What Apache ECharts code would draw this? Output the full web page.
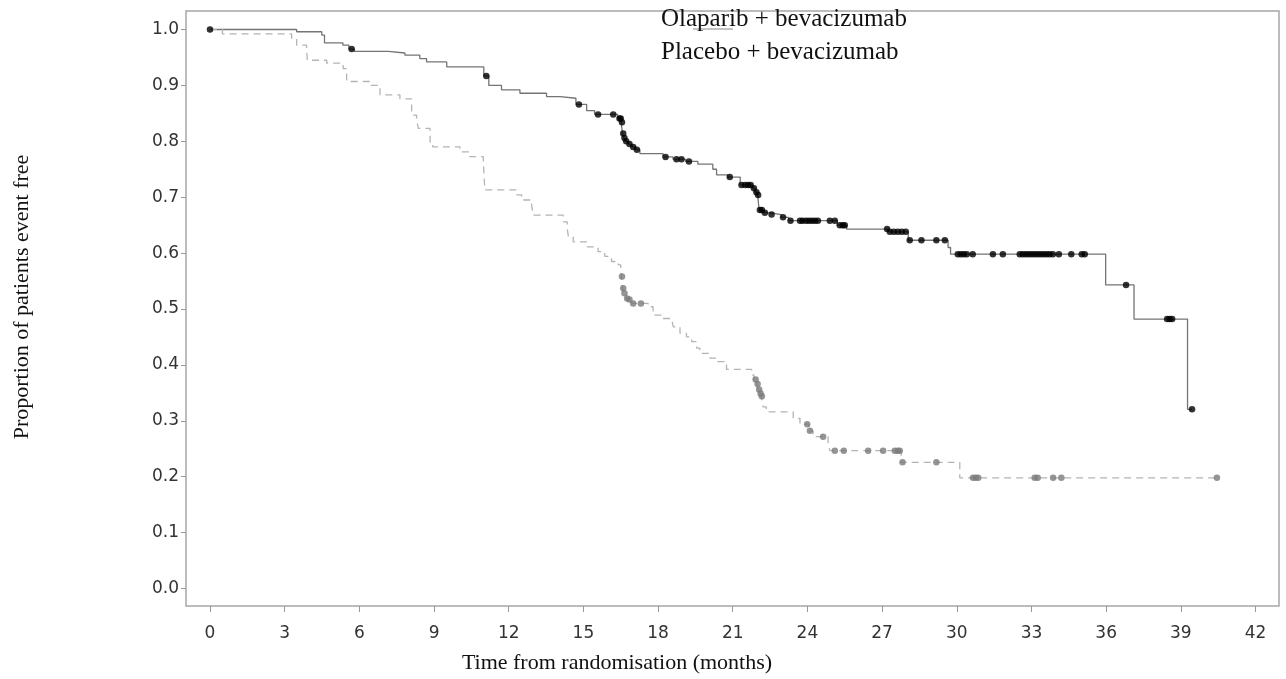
<!DOCTYPE html>
<html>
<head>
<meta charset="utf-8">
<script src="https://cdn.jsdelivr.net/npm/echarts@6/dist/echarts.min.js"></script>
<style>
  html, body { margin: 0; padding: 0; background: #fff; }
  #main { width: 1286px; height: 679px; }
</style>
</head>
<body>
<div id="main"></div>
<script>
// Olaparib + bevacizumab: step times (months) and survival after each step
const olaTimes = [0, 3.48, 4.49, 4.6, 5.34, 5.58, 5.8, 7.16, 7.83, 8.43, 8.7, 9.51, 11.0, 11.2, 11.71, 12.45,
  13.52, 14.06, 14.7, 15.13, 15.45, 16.38, 16.52, 16.57, 16.63, 16.68, 16.8, 16.95, 17.1, 17.27, 18.2, 18.6,
  19.1, 19.6, 20.2, 20.35, 20.8, 21.3, 21.8, 21.9, 22.0, 22.06, 22.25, 22.5, 22.95, 23.25, 25.2, 25.57,
  27.25, 28.05, 29.65, 29.75, 35.98, 37.12, 39.27, 39.45];
const olaSurv = [1.0, 0.996, 0.99, 0.976, 0.972, 0.965, 0.961, 0.958, 0.954, 0.948, 0.942, 0.933, 0.917, 0.9, 0.892, 0.886,
  0.88, 0.877, 0.866, 0.855, 0.848, 0.841, 0.834, 0.814, 0.806, 0.8, 0.795, 0.79, 0.785, 0.778, 0.772, 0.768,
  0.764, 0.759, 0.75, 0.74, 0.736, 0.722, 0.716, 0.709, 0.704, 0.677, 0.672, 0.669, 0.664, 0.658, 0.65, 0.643,
  0.638, 0.623, 0.61, 0.598, 0.543, 0.482, 0.3205, 0.3205];
const olaCensor = [0, 5.69, 11.1, 14.82, 15.59, 16.2, 16.45, 16.5, 16.55, 16.6, 16.65, 16.72, 16.85, 17.0, 17.15,
  18.3, 18.74, 18.94, 19.24, 20.88, 21.35, 21.5, 21.62, 21.72, 21.85, 21.95, 22.02, 22.09, 22.17, 22.29, 22.56,
  23.02, 23.32, 23.7, 23.8, 23.94, 24.06, 24.18, 24.3, 24.42, 24.9, 25.1, 25.3, 25.42, 25.5, 27.2, 27.31, 27.47,
  27.63, 27.79, 27.95, 28.11, 28.58, 29.18, 29.52, 30.04, 30.16, 30.28, 30.4, 30.64, 31.45, 31.85, 32.53, 32.65,
  32.77, 32.89, 33.01, 33.13, 33.25, 33.37, 33.49, 33.61, 33.73, 33.86, 34.1, 34.6, 35.02, 35.14, 36.8, 38.45,
  38.55, 38.65, 39.45];

// Placebo + bevacizumab
const plaTimes = [0, 0.5, 3.28, 3.48, 3.88, 3.91, 4.69, 5.35, 5.49, 6.43, 6.83, 7.63, 8.1, 8.3, 8.37, 8.84, 8.95,
  10.04, 10.44, 10.98, 11.04, 12.32, 12.52, 12.92, 12.98, 14.19, 14.35, 14.4, 14.59, 15.13, 15.59, 15.86, 16.13,
  16.4, 16.5, 16.53, 16.58, 16.62, 16.72, 16.8, 16.95, 17.6, 17.8, 18.14, 18.54, 18.61, 18.88, 19.14, 19.35,
  19.55, 19.68, 20.08, 20.35, 20.75, 21.76, 21.85, 21.97, 22.03, 22.09, 22.14, 22.22, 22.35, 23.43, 23.7, 24.05,
  24.23, 24.83, 24.9, 27.77, 30.12, 40.45];
const plaSurv = [1.0, 0.992, 0.984, 0.972, 0.963, 0.945, 0.94, 0.93, 0.907, 0.9, 0.883, 0.876, 0.847, 0.838, 0.823, 0.799, 0.79,
  0.781, 0.7725, 0.7665, 0.713, 0.704, 0.695, 0.686, 0.668, 0.656, 0.644, 0.629, 0.62, 0.611, 0.6025, 0.594, 0.585,
  0.579, 0.57, 0.558, 0.537, 0.528, 0.519, 0.517, 0.51, 0.504, 0.489, 0.483, 0.48, 0.468, 0.4565, 0.45, 0.4415,
  0.43, 0.4207, 0.412, 0.4057, 0.392, 0.382, 0.374, 0.366, 0.356, 0.349, 0.344, 0.325, 0.316, 0.3045, 0.294, 0.282,
  0.2716, 0.2585, 0.2465, 0.2258, 0.198, 0.198];
const plaCensor = [16.55, 16.6, 16.65, 16.76, 16.85, 17.0, 17.31, 21.92, 22.0, 22.06, 22.12, 22.17, 23.99, 24.1,
  24.63, 25.1, 25.46, 26.44, 27.04, 27.51, 27.63, 27.71, 27.82, 29.18, 30.65, 30.76, 30.86, 33.13, 33.25, 33.87,
  34.2, 40.45];

const xTicks = [0, 3, 6, 9, 12, 15, 18, 21, 24, 27, 30, 33, 36, 39, 42];
const yTicks = [0, 0.1, 0.2, 0.3, 0.4, 0.5, 0.6, 0.7, 0.8, 0.9, 1.0];
const seriesNames = ['Olaparib + bevacizumab', 'Placebo + bevacizumab'];

function survAt(times, surv, t) {
  let s = surv[0];
  for (let i = 0; i < times.length; i++) {
    if (times[i] <= t) s = surv[i];
  }
  return s;
}
function curve(times, surv) {
  return times.map((t, i) => [t, surv[i]]);
}
function marks(censor, times, surv) {
  return censor.map(t => [t, survAt(times, surv, t)]);
}

const tickFont = { fontFamily: 'DejaVu Sans', fontSize: 17, color: '#333' };
const serif = 'Liberation Serif';

const option = {
  animation: false,
  backgroundColor: '#fff',
  grid: {
    left: 186, top: 11, right: 7, bottom: 73,
    show: true, borderColor: '#a6a6a6', borderWidth: 1.5
  },
  legend: {
    data: seriesNames,
    orient: 'vertical',
    left: 655, top: 7,
    padding: 0,
    itemWidth: 0, itemHeight: 0,
    itemGap: 8,
    selectedMode: false,
    textStyle: { fontFamily: serif, fontSize: 25, color: '#111', lineHeight: 25 }
  },
  xAxis: {
    type: 'value',
    min: -0.964, max: 42.944,
    axisLine: { show: false, onZero: false },
    splitLine: { show: false },
    axisTick: { show: true, customValues: xTicks, length: 6, lineStyle: { color: '#999' } },
    axisLabel: Object.assign({ customValues: xTicks, margin: 19 }, tickFont)
  },
  yAxis: {
    type: 'value',
    min: -0.0313, max: 1.0331,
    axisLine: { show: false, onZero: false },
    splitLine: { show: false },
    axisTick: { show: true, customValues: yTicks, length: 5, lineStyle: { color: '#999' } },
    axisLabel: Object.assign({ customValues: yTicks, margin: 7, formatter: v => v.toFixed(1) }, tickFont)
  },
  graphic: [
    {
      type: 'text', x: 22, y: 297, rotation: Math.PI / 2,
      style: { text: 'Proportion of patients event free', fontFamily: serif, fontSize: 22, fill: '#111',
        align: 'center', verticalAlign: 'middle' }
    },
    {
      type: 'text', x: 617, y: 663,
      style: { text: 'Time from randomisation (months)', fontFamily: serif, fontSize: 22, fill: '#111',
        align: 'center', verticalAlign: 'middle' }
    },
    {
      type: 'line', shape: { x1: 693, y1: 29, x2: 733, y2: 29 },
      style: { stroke: '#8a8a8a', lineWidth: 1.2 }, z: 1
    }
  ],
  series: [
    {
      name: seriesNames[0], type: 'line', step: 'end', showSymbol: false,
      lineStyle: { color: '#747474', width: 1.3 }, itemStyle: { color: '#747474' },
      data: curve(olaTimes, olaSurv)
    },
    {
      name: seriesNames[1], type: 'line', step: 'end', showSymbol: false,
      lineStyle: { color: '#b4b4b4', width: 1.3, type: [7, 5] }, itemStyle: { color: '#b4b4b4' },
      data: curve(plaTimes, plaSurv)
    },
    {
      name: 'Olaparib censored', type: 'scatter', symbol: 'circle', symbolSize: 6.5,
      itemStyle: { color: '#000' }, z: 3,
      data: marks(olaCensor, olaTimes, olaSurv)
    },
    {
      name: 'Placebo censored', type: 'scatter', symbol: 'circle', symbolSize: 6.5,
      itemStyle: { color: '#7a7a7a' }, z: 3,
      data: marks(plaCensor, plaTimes, plaSurv)
    }
  ]
};

const myChart = echarts.init(document.getElementById('main'));
myChart.setOption(option);
window.onresize = function() {
  myChart.resize();
};
</script>
</body>
</html>
